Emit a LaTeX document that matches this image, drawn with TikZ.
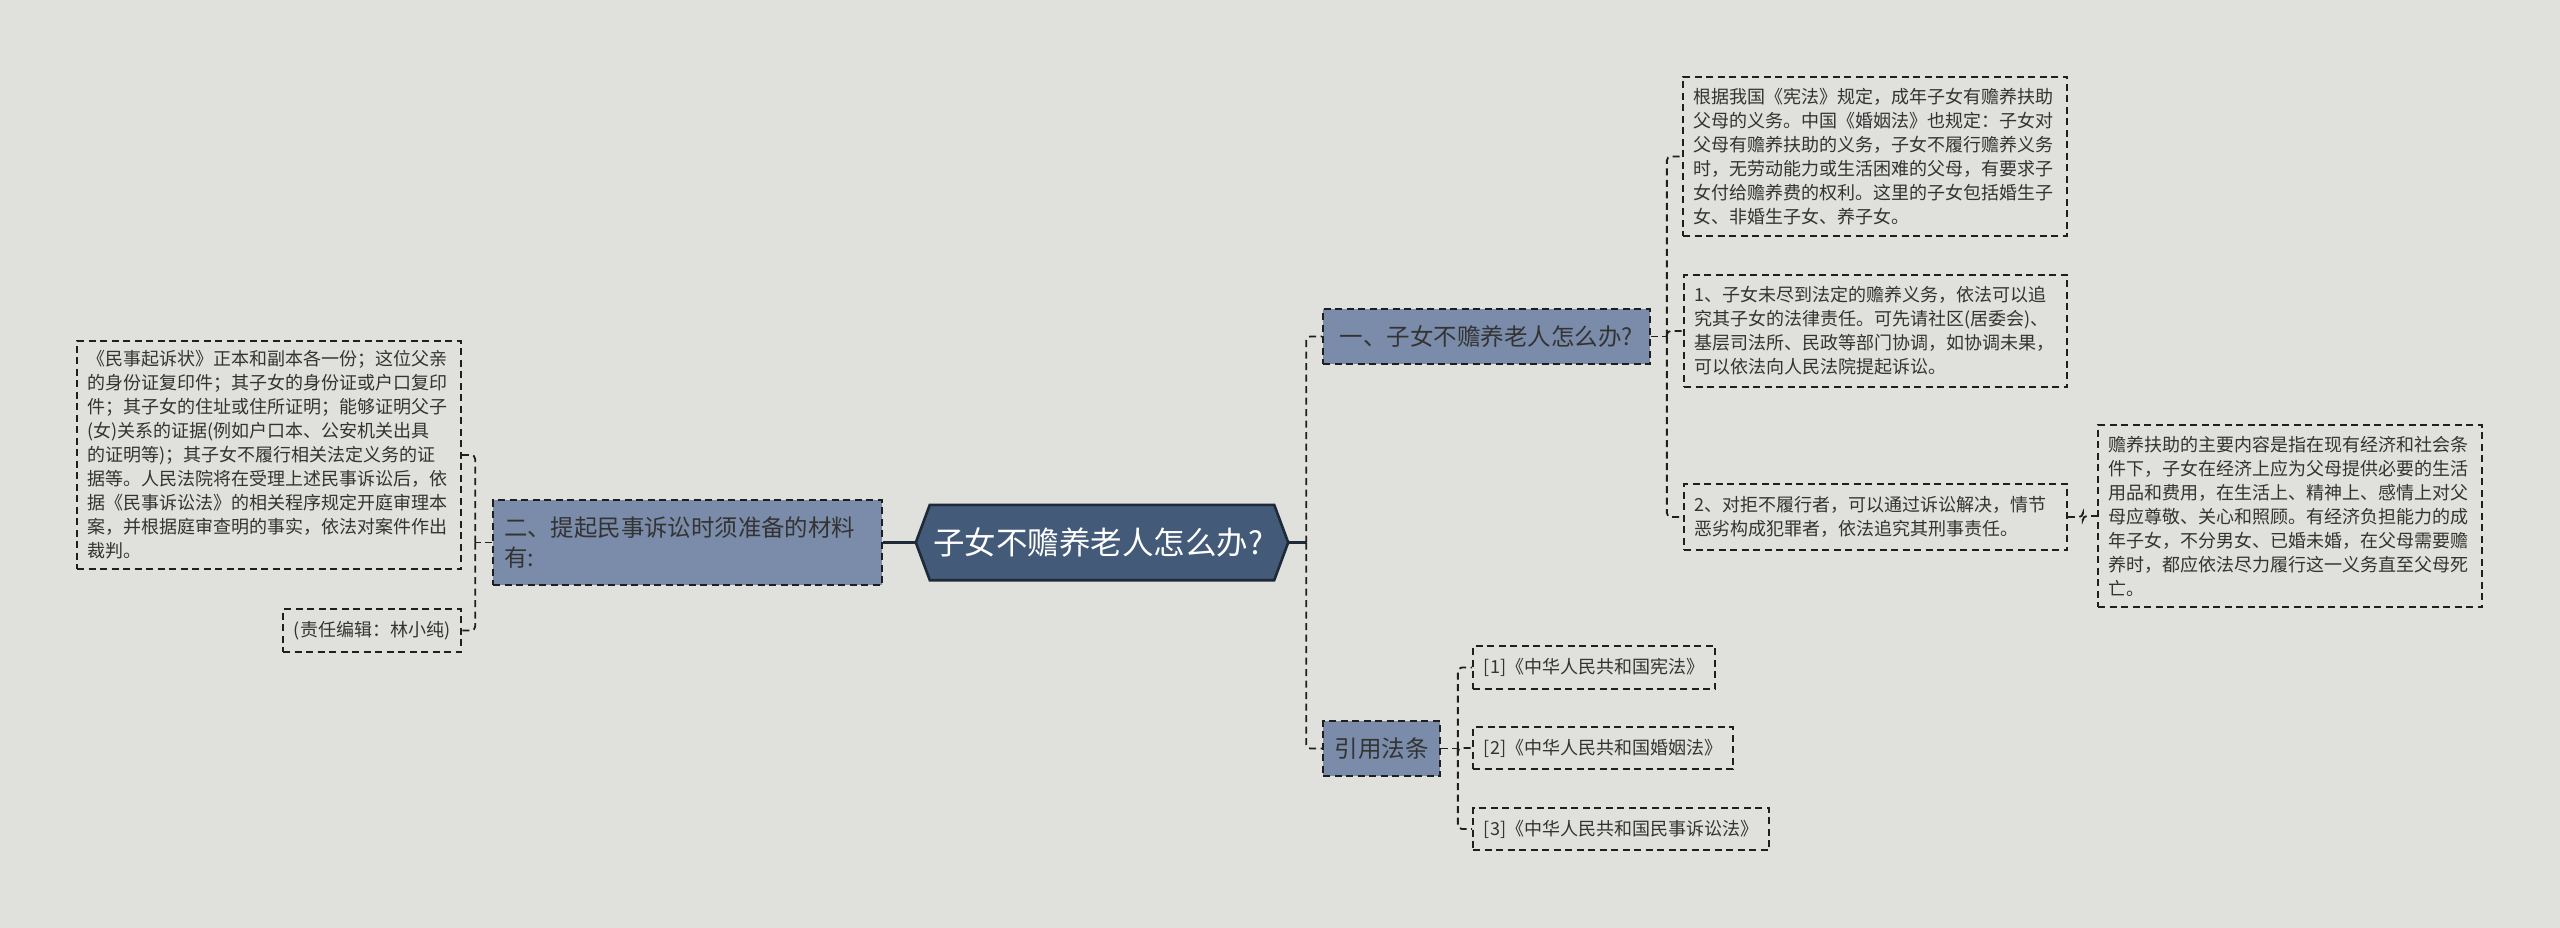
\documentclass[tikz,border=0pt]{standalone}
\usepackage{fontspec}
\setmainfont{Noto Sans CJK SC}
\usetikzlibrary{calc}
\definecolor{bgc}{HTML}{E0E1DC}
\definecolor{rootc}{HTML}{435A79}
\definecolor{rootline}{HTML}{1E2A38}
\definecolor{branchc}{HTML}{7A8CA9}
\definecolor{linec}{HTML}{1F1F1F}
\definecolor{textc}{HTML}{333333}
\tikzset{
  leafbox/.style={draw=linec, line width=1.7pt, dash pattern=on 7pt off 4.5pt,
    inner xsep=10pt, inner ysep=3pt, align=left, text=textc,
    font=\fontsize{18pt}{24pt}\selectfont},
  citebox/.style={draw=linec, line width=1.7pt, dash pattern=on 7pt off 4.5pt,
    inner sep=3pt, text=textc, font=\fontsize{18pt}{24pt}\selectfont},
  branchbox/.style={draw=linec, fill=branchc, line width=1.7pt, dash pattern=on 7pt off 4.5pt,
    inner sep=3pt, text=textc},
  conn/.style={draw=linec, line width=1.8pt, dash pattern=on 7pt off 4.5pt, rounded corners=4pt},
  solidconn/.style={draw=rootline, line width=2.6pt}
}
\begin{document}
\begin{tikzpicture}[x=1pt,y=-1pt]
\fill[bgc] (0,0) rectangle (2560,928);
\useasboundingbox (0,0) rectangle (2560,928);

% root
\node[minimum width=372pt, minimum height=75pt, inner sep=0pt, text=white,
  font=\fontsize{31.5pt}{36pt}\selectfont] (root) at (1102,542.5) {};
\draw[fill=rootc, draw=rootline, line width=2.6pt]
  (root.west) -- ($(root.north west)+(14,0)$) -- ($(root.north east)+(-14,0)$)
  -- (root.east) -- ($(root.south east)+(-14,0)$) -- ($(root.south west)+(14,0)$) -- cycle;
\node[text=white, font=\fontsize{31.5pt}{36pt}\selectfont] at ($(root.center)+(-4,0)$) {子女不赡养老人怎么办?};

% left branch
\node[branchbox, minimum width=389pt, minimum height=85pt, text width=367pt, align=left,
  font=\fontsize{23.4pt}{30pt}\selectfont] (lb) at (687.5,542.5)
  {二、提起民事诉讼时须准备的材料\\有:};

\node[leafbox, text width=364pt, minimum height=228pt] (l1) at (269,455)
 {《民事起诉状》正本和副本各一份；这位父亲\\
  的身份证复印件；其子女的身份证或户口复印\\
  件；其子女的住址或住所证明；能够证明父子\\
  (女)关系的证据(例如户口本、公安机关出具\\
  的证明等)；其子女不履行相关法定义务的证\\
  据等。人民法院将在受理上述民事诉讼后，依\\
  据《民事诉讼法》的相关程序规定开庭审理本\\
  案，并根据庭审查明的事实，依法对案件作出\\
  裁判。};
\node[citebox, minimum width=178pt, minimum height=43pt] (l2) at (372,630.5) {(责任编辑：林小纯)};

% right branches
\node[branchbox, minimum width=327pt, minimum height=55pt,
  font=\fontsize{23.5pt}{28pt}\selectfont] (b1) at (1486.5,336.5) {一、子女不赡养老人怎么办?};
\node[branchbox, minimum width=117pt, minimum height=55pt,
  font=\fontsize{23.5pt}{28pt}\selectfont] (b2) at (1381.5,748.5) {引用法条};

\node[leafbox, text width=364pt, minimum height=159pt] (a) at (1875,156.5)
 {根据我国《宪法》规定，成年子女有赡养扶助\\
  父母的义务。中国《婚姻法》也规定：子女对\\
  父母有赡养扶助的义务，子女不履行赡养义务\\
  时，无劳动能力或生活困难的父母，有要求子\\
  女付给赡养费的权利。这里的子女包括婚生子\\
  女、非婚生子女、养子女。};
\node[leafbox, text width=363pt, minimum height=112pt] (b) at (1875.5,331)
 {1、子女未尽到法定的赡养义务，依法可以追\\
  究其子女的法律责任。可先请社区(居委会)、\\
  基层司法所、民政等部门协调，如协调未果，\\
  可以依法向人民法院提起诉讼。};
\node[leafbox, text width=363pt, minimum height=66pt] (c) at (1875.5,517)
 {2、对拒不履行者，可以通过诉讼解决，情节\\
  恶劣构成犯罪者，依法追究其刑事责任。};
\node[leafbox, text width=364pt, minimum height=182pt] (d) at (2290,516)
 {赡养扶助的主要内容是指在现有经济和社会条\\
  件下，子女在经济上应为父母提供必要的生活\\
  用品和费用，在生活上、精神上、感情上对父\\
  母应尊敬、关心和照顾。有经济负担能力的成\\
  年子女，不分男女、已婚未婚，在父母需要赡\\
  养时，都应依法尽力履行这一义务直至父母死\\
  亡。};

\node[citebox, minimum width=242pt, minimum height=43pt] (r1) at (1594,667.5) {[1]《中华人民共和国宪法》};
\node[citebox, minimum width=260pt, minimum height=42pt] (r2) at (1603,748) {[2]《中华人民共和国婚姻法》};
\node[citebox, minimum width=296pt, minimum height=42pt] (r3) at (1621,829) {[3]《中华人民共和国民事诉讼法》};

% connectors
\draw[solidconn] (root.west) -- (lb.east);
\coordinate (lv) at ($(lb.west)+(-17,0)$);
\draw[conn] (lb.west) -- (lv);
\draw[conn] (lv) |- (l1.east);
\draw[conn] (lv) |- (l2.east);

\coordinate (rv) at ($(root.east)+(18,0)$);
\draw[solidconn] (root.east) -- (rv);
\draw[conn] (rv) |- (b1.west);
\draw[conn] (rv) |- (b2.west);

\coordinate (bv) at ($(b1.east)+(16,0)$);
\draw[conn] (b1.east) -- (bv);
\draw[conn] (bv) |- (a.west);
\draw[conn] (bv) |- (b.west);
\draw[conn] (bv) |- (c.west);

\coordinate (dv) at ($(c.east)+(15,0)$);
\draw[conn] (c.east) -- (dv) |- (d.west);

\coordinate (cv) at ($(b2.east)+(17,0)$);
\draw[conn] (b2.east) -- (cv);
\draw[conn] (cv) |- (r1.west);
\draw[conn] (cv) |- (r2.west);
\draw[conn] (cv) |- (r3.west);
\end{tikzpicture}
\end{document}
